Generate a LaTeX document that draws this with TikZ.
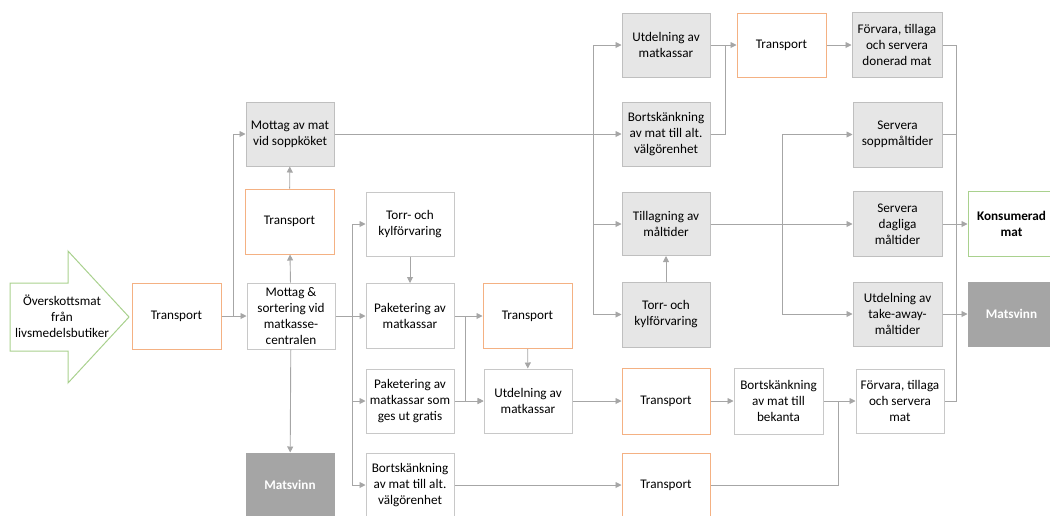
\documentclass[tikz,border=0pt]{standalone}
\usepackage{fontspec}
\setmainfont{Carlito}
\usetikzlibrary{arrows.meta}
\definecolor{gfill}{HTML}{E6E6E6}
\definecolor{gline}{HTML}{BFBFBF}
\definecolor{wline}{HTML}{C8C8C8}
\definecolor{oline}{HTML}{F4B183}
\definecolor{grline}{HTML}{A9D18E}
\definecolor{dgray}{HTML}{A5A5A5}
\definecolor{cline}{HTML}{A6A6A6}
\tikzset{
  base/.style={rectangle, align=center, inner sep=1pt, font=\fontsize{13.2}{16}\selectfont, line width=1pt},
  graybox/.style={base, draw=gline, fill=gfill},
  whitebox/.style={base, draw=wline, fill=white},
  orangebox/.style={base, draw=oline, fill=white},
  greenbox/.style={base, draw=grline, fill=white, font=\fontsize{13.2}{16}\selectfont\bfseries},
  wastebox/.style={base, draw=dgray, fill=dgray, text=white, font=\fontsize{13.2}{16}\selectfont\bfseries},
  sz/.style 2 args={minimum width=#1, minimum height=#2},
  conn/.style={draw=cline, line width=0.9pt},
  arr/.style={conn, -{Triangle[length=6pt,width=6pt]}}
}
\begin{document}
\begin{tikzpicture}[x=1pt,y=-1pt]
\useasboundingbox (0,0) rectangle (1050,515);
\clip (0,0) rectangle (1050,515);
% source arrow
\draw[draw=grline, fill=white, line width=1pt] (10,283) -- (68,283) -- (68,251) -- (129,317) -- (68,383) -- (68,351) -- (10,351) -- cycle;
\node[base, draw=none] (src) at (62,316) {Överskottsmat\\från\\livsmedelsbutiker};
% left part
\node[orangebox, sz={89}{66}] (t1) at (176.5,316) {Transport};
\node[whitebox, sz={88}{66}] (ms) at (291,316) {Mottag \&\\sortering vid\\matkasse-\\centralen};
\node[orangebox, sz={89}{65}] (t2) at (289.5,221.5) {Transport};
\node[graybox, sz={88}{64}] (mav) at (290,134) {Mottag av mat\\vid soppköket};
\node[wastebox, sz={88}{64}] (mv1) at (290,485) {Matsvinn};
% middle column
\node[whitebox, sz={88}{64}] (tk1) at (410,224) {Torr- och\\kylförvaring};
\node[whitebox, sz={88}{65}] (pk) at (410,316) {Paketering av\\matkassar};
\node[whitebox, sz={88}{64}] (pg) at (410,401) {Paketering av\\matkassar som\\ges ut gratis};
\node[whitebox, sz={88}{64}] (bv1) at (410,485) {Bortskänkning\\av mat till alt.\\välgörenhet};
\node[orangebox, sz={89}{65}] (t3) at (527.5,316) {Transport};
\node[whitebox, sz={88}{64}] (um) at (528,401) {Utdelning av\\matkassar};
% right-middle column
\node[graybox, sz={88}{64}] (umr) at (666,45) {Utdelning av\\matkassar};
\node[graybox, sz={88}{64}] (bvr) at (666,134) {Bortskänkning\\av mat till alt.\\välgörenhet};
\node[graybox, sz={88}{63}] (tl) at (666,224) {Tillagning av\\måltider};
\node[graybox, sz={88}{65}] (tkr) at (666,314.5) {Torr- och\\kylförvaring};
\node[orangebox, sz={88}{66}] (t4) at (666,401) {Transport};
\node[orangebox, sz={88}{64}] (t5) at (666,485) {Transport};
\node[orangebox, sz={89}{64}] (t6) at (781.5,45) {Transport};
\node[whitebox, sz={89}{66}] (bb) at (778.5,401) {Bortskänkning\\av mat till\\bekanta};
% right column
\node[graybox, sz={90}{65}] (fd) at (897,45) {Förvara, tillaga\\och servera\\donerad mat};
\node[graybox, sz={89}{65}] (ss) at (897.5,134.5) {Servera\\soppmåltider};
\node[graybox, sz={89}{65}] (sd) at (897.5,224) {Servera\\dagliga\\måltider};
\node[graybox, sz={89}{64}] (ta) at (897.5,314) {Utdelning av\\take-away-\\måltider};
\node[whitebox, sz={88}{64}] (fm) at (900,401) {Förvara, tillaga\\och servera\\mat};
\node[greenbox, sz={87}{65}] (km) at (1011.5,224) {Konsumerad\\mat};
\node[wastebox, sz={87}{64}] (mvr) at (1011.5,314) {Matsvinn};
% junction coordinates
\coordinate (j0) at (233,316);
\coordinate (j1) at (352,316);
\coordinate (j2) at (465,316);
\coordinate (j3) at (593,134);
\coordinate (j4) at (725,45);
\coordinate (j5) at (782,224);
\coordinate (j6) at (838,401);
\coordinate (j7) at (956,45);
\coordinate (j8) at (956,401);
% connectors left
\draw[arr] (t1) -- (ms);
\draw[arr] (j0) |- (mav.west);
\draw[arr] (ms) -- (t2);
\draw[arr] (t2) -- (mav);
\draw[arr] (ms) -- (mv1);
\draw[conn] (ms.east) -- (j1);
\draw[arr] (j1) |- (tk1.west);
\draw[arr] (j1) -- (pk.west);
\draw[arr] (j1) |- (pg.west);
\draw[arr] (j1) |- (bv1.west);
\draw[arr] (tk1) -- (pk);
\draw[arr] (pk.east) -- (t3.west);
\draw[arr] (j2) |- (um.west);
\draw[arr] (pg.east) -- (um.west);
\draw[arr] (t3) -- (um);
\draw[arr] (um.east) -- (t4.west);
\draw[arr] (bv1.east) -- (t5.west);
\draw[arr] (t4) -- (bb);
\draw[arr] (bb.east) -- (fm.west);
\draw[conn] (t5.east) -| (j6);
% connectors top
\draw[arr] (mav.east) -- (bvr.west);
\draw[arr] (j3) |- (umr.west);
\draw[arr] (j3) |- (tl.west);
\draw[arr] (j3) |- (tkr.west);
\draw[arr] (tkr) -- (tl);
\draw[arr] (umr.east) -- (t6.west);
\draw[conn] (bvr.east) -| (j4);
\draw[arr] (t6) -- (fd);
\draw[arr] (tl.east) -- (sd.west);
\draw[arr] (j5) |- (ss.west);
\draw[arr] (j5) |- (ta.west);
% right collector
\draw[conn] (fd.east) -- (j7) -- (j8) -- (fm.east);
\draw[conn] (ss.east) -- (ss.east -| j7);
\draw[arr] (sd.east) -- (km.west);
\draw[arr] (ta.east) -- (mvr.west);
\end{tikzpicture}
\end{document}
